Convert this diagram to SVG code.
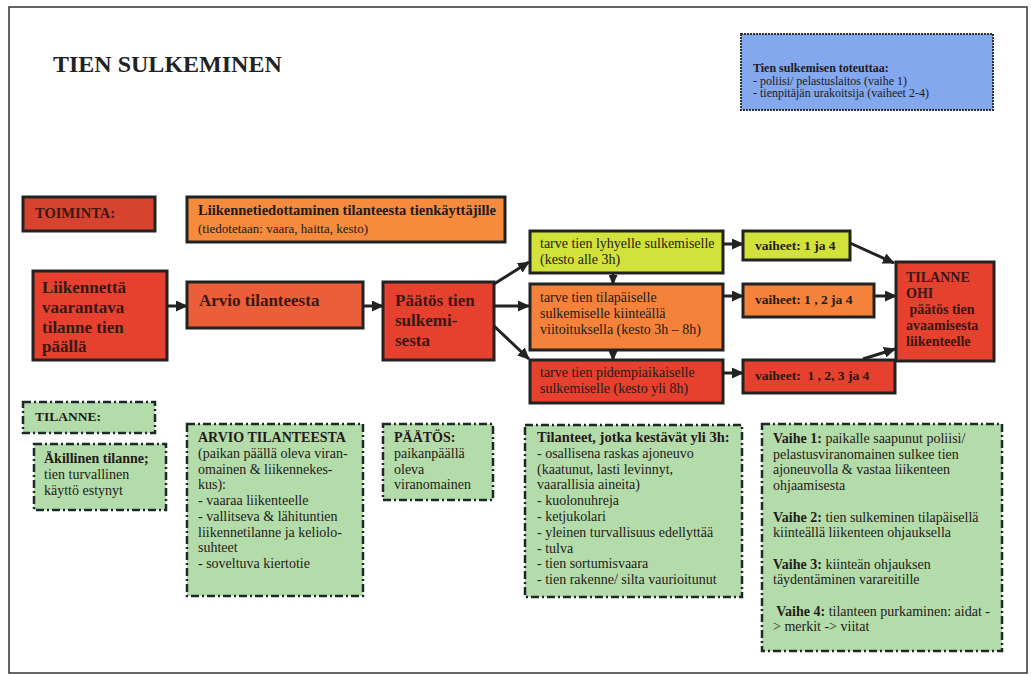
<svg xmlns="http://www.w3.org/2000/svg" width="1031" height="676" viewBox="0 0 1031 676">
<defs>
<marker id="ah" markerUnits="userSpaceOnUse" markerWidth="12" markerHeight="11" refX="11" refY="5.5" orient="auto">
<path d="M0,0 L12,5.5 L0,11 Z" fill="#222"/>
</marker>
<marker id="ahs" markerUnits="userSpaceOnUse" markerWidth="10" markerHeight="9" refX="9" refY="4.5" orient="auto">
<path d="M0,0 L10,4.5 L0,9 Z" fill="#222"/>
</marker>
<style>
text{font-family:"Liberation Serif","Times New Roman",serif;fill:#231a18}
.b{font-weight:bold}
.main{stroke:#222;stroke-width:3}
.dash{fill:#b4dcaa;stroke:#1e2828;stroke-width:2.5;stroke-dasharray:8 3 2 3}
.red{fill:#e6412f}
.org{fill:#f5823a}
.yel{fill:#d3e23b}
.t17{font-size:17px;font-weight:bold;fill:#3a1712}
.t14{font-size:14px}
.t13{font-size:13.5px}
.conn line{stroke:#222;stroke-width:3}
</style>
</defs>
<rect x="0" y="0" width="1031" height="676" fill="#fff"/>
<rect x="9" y="7" width="1018" height="666" fill="none" stroke="#333" stroke-width="1.5"/>
<text x="53" y="72" class="b" font-size="24" style="fill:#222">TIEN SULKEMINEN</text>

<g id="toteuttaa">
<rect x="741" y="34" width="252" height="76" fill="#84a8ee" stroke="#333" stroke-width="2" stroke-dasharray="2 1"/>
<text x="753" y="72" class="b" font-size="12">Tien sulkemisen toteuttaa:</text>
<text x="753" y="84.5" font-size="12">- poliisi/ pelastuslaitos (vaihe 1)</text>
<text x="753" y="97" font-size="12">- tienpitäjän urakoitsija (vaiheet 2-4)</text>
</g>

<g id="toiminta">
<rect x="23" y="197" width="132" height="34" class="main" fill="#d8432f"/>
<text x="35" y="218" class="b" font-size="14.5" style="fill:#3a1712">TOIMINTA:</text>
</g>

<g id="liikennetiedottaminen">
<rect x="187" y="197" width="318" height="45" class="main" fill="#f68b3d"/>
<text x="198" y="215" class="b" font-size="14.5">Liikennetiedottaminen tilanteesta tienkäyttäjille</text>
<text x="198" y="233" font-size="13">(tiedotetaan: vaara, haitta, kesto)</text>
</g>

<g id="liikennetta">
<rect x="33" y="271" width="134" height="89" class="main red"/>
<text class="t17"><tspan x="42" y="293">Liikennettä</tspan><tspan x="42" y="313">vaarantava</tspan><tspan x="42" y="333">tilanne tien</tspan><tspan x="42" y="352">päällä</tspan></text>
</g>

<g id="arvio">
<rect x="187" y="282" width="176" height="46" class="main" fill="#ea5f3a"/>
<text x="199" y="306" class="t17">Arvio tilanteesta</text>
</g>

<g id="paatos">
<rect x="383" y="282" width="111" height="78" class="main red"/>
<text class="t17"><tspan x="395" y="306">Päätös tien</tspan><tspan x="395" y="326">sulkemi-</tspan><tspan x="395" y="346">sesta</tspan></text>
</g>

<g id="lyhyt">
<rect x="530" y="231" width="193" height="42" class="main yel"/>
<text class="t14"><tspan x="540" y="248">tarve tien lyhyelle sulkemiselle</tspan><tspan x="540" y="264">(kesto alle 3h)</tspan></text>
</g>

<g id="tilapainen">
<rect x="530" y="284" width="193" height="66" class="main org"/>
<text class="t14"><tspan x="540" y="302">tarve tien tilapäiselle</tspan><tspan x="540" y="318">sulkemiselle kiinteällä</tspan><tspan x="540" y="334">viitoituksella (kesto 3h – 8h)</tspan></text>
</g>

<g id="pidempi">
<rect x="530" y="360" width="193" height="43" class="main red"/>
<text class="t14"><tspan x="540" y="377">tarve tien pidempiaikaiselle</tspan><tspan x="540" y="393">sulkemiselle (kesto yli 8h)</tspan></text>
</g>

<g id="vaiheet1">
<rect x="743" y="231" width="107" height="29" class="main yel"/>
<text x="755" y="250" class="b t13">vaiheet: 1 ja 4</text>
</g>

<g id="vaiheet2">
<rect x="743" y="284" width="131" height="33" class="main org"/>
<text x="755" y="304" class="b t13">vaiheet: 1 , 2 ja 4</text>
</g>

<g id="vaiheet3">
<rect x="743" y="360" width="152" height="33" class="main red"/>
<text x="755" y="380" class="b t13" xml:space="preserve">vaiheet:  1 , 2, 3 ja 4</text>
</g>

<g id="tilanneohi">
<rect x="896" y="262" width="98" height="99" class="main red"/>
<text class="b t14" style="fill:#3a1712" xml:space="preserve"><tspan x="906" y="282">TILANNE</tspan><tspan x="906" y="298">OHI</tspan><tspan x="906" y="314"> päätös tien</tspan><tspan x="906" y="330">avaamisesta</tspan><tspan x="906" y="346">liikenteelle</tspan></text>
</g>

<g id="tilanne-label">
<rect x="23" y="402" width="132" height="31" class="dash"/>
<text x="35" y="421" class="b" font-size="13.5">TILANNE:</text>
</g>

<g id="akillinen">
<rect x="34" y="444" width="132" height="66" class="dash"/>
<text class="t14"><tspan x="44" y="463" class="b">Äkillinen tilanne;</tspan><tspan x="44" y="479">tien turvallinen</tspan><tspan x="44" y="495">käyttö estynyt</tspan></text>
</g>

<g id="arvio-info">
<rect x="187" y="424" width="176" height="172" class="dash"/>
<text class="t14"><tspan x="198" y="442" class="b">ARVIO TILANTEESTA</tspan><tspan x="198" y="458">(paikan päällä oleva viran-</tspan><tspan x="198" y="473.5">omainen &amp; liikennekes-</tspan><tspan x="198" y="489">kus):</tspan><tspan x="198" y="505">- vaaraa liikenteelle</tspan><tspan x="198" y="521">- vallitseva &amp; lähituntien</tspan><tspan x="198" y="536.5">liikennetilanne ja keliolo-</tspan><tspan x="198" y="552">suhteet</tspan><tspan x="198" y="568">- soveltuva kiertotie</tspan></text>
</g>

<g id="paatos-info">
<rect x="383" y="424" width="110" height="76" class="dash"/>
<text class="t14"><tspan x="394" y="442" class="b">PÄÄTÖS:</tspan><tspan x="394" y="458">paikanpäällä</tspan><tspan x="394" y="473.5">oleva</tspan><tspan x="394" y="489">viranomainen</tspan></text>
</g>

<g id="tilanteet-info">
<rect x="525" y="425" width="217" height="172" class="dash"/>
<text class="t14"><tspan x="537" y="442" class="b" font-size="14.5">Tilanteet, jotka kestävät yli 3h:</tspan><tspan x="537" y="457.8">- osallisena raskas ajoneuvo</tspan><tspan x="537" y="473.6">(kaatunut, lasti levinnyt,</tspan><tspan x="537" y="489.4">vaarallisia aineita)</tspan><tspan x="537" y="505.2">- kuolonuhreja</tspan><tspan x="537" y="521">- ketjukolari</tspan><tspan x="537" y="536.8">- yleinen turvallisuus edellyttää</tspan><tspan x="537" y="552.6">- tulva</tspan><tspan x="537" y="568.4">- tien sortumisvaara</tspan><tspan x="537" y="584.2">- tien rakenne/ silta vaurioitunut</tspan></text>
</g>

<g id="vaihe-info">
<rect x="762" y="424" width="240" height="227" class="dash"/>
<text class="t14" xml:space="preserve"><tspan x="773" y="443"><tspan class="b">Vaihe 1:</tspan> paikalle saapunut poliisi/</tspan><tspan x="773" y="458.7">pelastusviranomainen sulkee tien</tspan><tspan x="773" y="474.4">ajoneuvolla &amp; vastaa liikenteen</tspan><tspan x="773" y="490.1">ohjaamisesta</tspan><tspan x="773" y="521.5"><tspan class="b">Vaihe 2:</tspan> tien sulkeminen tilapäisellä</tspan><tspan x="773" y="537.2">kiinteällä liikenteen ohjauksella</tspan><tspan x="773" y="568.6"><tspan class="b">Vaihe 3:</tspan> kiinteän ohjauksen</tspan><tspan x="773" y="584.3">täydentäminen varareitille</tspan><tspan x="773" y="615.7"><tspan class="b"> Vaihe 4:</tspan> tilanteen purkaminen: aidat -</tspan><tspan x="773" y="631.4">&gt; merkit -&gt; viitat</tspan></text>
</g>

<g id="connectors" class="conn">
<line x1="167" y1="306" x2="187" y2="306" marker-end="url(#ah)"/>
<line x1="363" y1="306" x2="383" y2="306" marker-end="url(#ah)"/>
<line x1="494" y1="284" x2="529" y2="262" marker-end="url(#ah)"/>
<line x1="494" y1="306" x2="529" y2="306" marker-end="url(#ah)"/>
<line x1="494" y1="326" x2="529" y2="359" marker-end="url(#ah)"/>
<line x1="613" y1="273" x2="613" y2="284" marker-end="url(#ahs)"/>
<line x1="613" y1="350" x2="613" y2="360" marker-end="url(#ahs)"/>
<line x1="723" y1="244" x2="743" y2="244" marker-end="url(#ah)"/>
<line x1="723" y1="296" x2="743" y2="296" marker-end="url(#ah)"/>
<line x1="723" y1="373" x2="743" y2="373" marker-end="url(#ah)"/>
<line x1="850" y1="243" x2="894" y2="263" marker-end="url(#ah)"/>
<line x1="874" y1="296" x2="896" y2="296" marker-end="url(#ah)"/>
<line x1="863" y1="359" x2="895" y2="349" marker-end="url(#ah)"/>
</g>
</svg>
